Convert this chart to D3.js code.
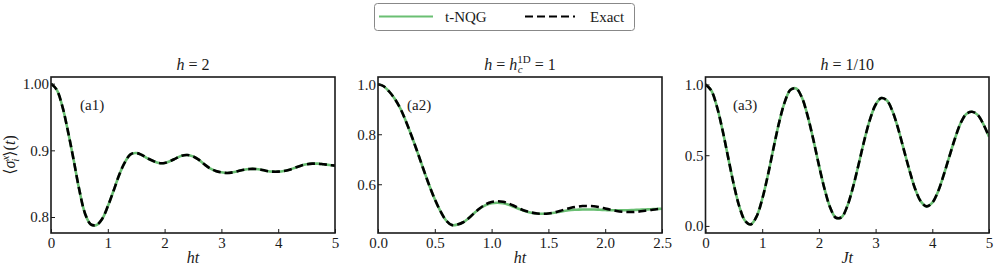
<!DOCTYPE html>
<html>
<meta charset="utf-8" />
<head>
<script src="https://d3js.org/d3.v7.min.js"></script>
<style>
  body { margin: 0; background: #fff; }
  text { font-family: "Liberation Serif", "DejaVu Serif", serif; fill: #1a1a1a; }
</style>
</head>
<body>
<div id="chart"></div>
<script>
// ---- data ----
// (a1) h = 2
var tA = [0,0.1,0.2,0.3,0.4,0.5,0.6,0.7,0.8,0.9,1.0,1.1,1.2,1.3,1.4,1.5,1.6,1.7,1.8,1.9,
          2.0,2.1,2.2,2.3,2.4,2.5,2.6,2.7,2.8,2.9,3.0,3.1,3.2,3.3,3.4,3.5,3.6,3.7,3.8,3.9,
          4.0,4.1,4.2,4.3,4.4,4.5,4.6,4.7,4.8,4.9,5.0];
var exactA = [1.000,0.991,0.966,0.928,0.885,0.840,0.805,0.789,0.788,0.797,0.816,0.839,0.863,0.882,0.894,0.896,0.893,0.888,0.884,0.881,
              0.881,0.884,0.888,0.892,0.893,0.891,0.886,0.879,0.873,0.869,0.867,0.866,0.867,0.869,0.871,0.872,0.872,0.871,0.869,0.868,
              0.868,0.869,0.871,0.874,0.877,0.879,0.880,0.880,0.879,0.878,0.877];
var nqgA =   [1.000,0.991,0.966,0.928,0.885,0.840,0.805,0.789,0.788,0.797,0.816,0.839,0.863,0.882,0.894,0.896,0.893,0.888,0.884,0.881,
              0.881,0.884,0.888,0.892,0.893,0.891,0.886,0.879,0.873,0.869,0.867,0.866,0.867,0.869,0.871,0.872,0.872,0.871,0.869,0.868,
              0.868,0.869,0.871,0.874,0.877,0.879,0.880,0.880,0.879,0.878,0.877];

// (a2) h = h_c = 1
var tB = [0,0.05,0.1,0.15,0.2,0.25,0.3,0.35,0.4,0.45,0.5,0.55,0.6,0.65,0.7,0.75,0.8,0.85,0.9,0.95,
          1.0,1.05,1.1,1.15,1.2,1.25,1.3,1.35,1.4,1.45,1.5,1.55,1.6,1.65,1.7,1.75,1.8,1.85,1.9,1.95,
          2.0,2.05,2.1,2.15,2.2,2.25,2.3,2.35,2.4,2.45,2.5];
var exactB = [1.000,0.992,0.970,0.940,0.900,0.847,0.788,0.725,0.660,0.597,0.540,0.492,0.455,0.437,0.439,0.448,0.465,0.486,0.505,0.520,
              0.529,0.532,0.530,0.523,0.513,0.502,0.493,0.487,0.483,0.482,0.483,0.487,0.493,0.500,0.506,0.510,0.513,0.513,0.512,0.508,
              0.503,0.498,0.493,0.490,0.489,0.489,0.491,0.494,0.497,0.500,0.502];
var nqgB =   [1.000,0.992,0.970,0.940,0.900,0.847,0.788,0.725,0.660,0.597,0.540,0.492,0.455,0.437,0.439,0.448,0.465,0.486,0.504,0.517,
              0.524,0.526,0.524,0.518,0.509,0.500,0.492,0.486,0.483,0.482,0.483,0.486,0.490,0.494,0.497,0.498,0.499,0.499,0.499,0.498,
              0.497,0.496,0.496,0.496,0.496,0.497,0.498,0.499,0.500,0.501,0.502];

// (a3) h = 1/10
var tC = tA;
var exactC = [1.000,0.959,0.846,0.678,0.483,0.291,0.133,0.035,0.011,0.066,0.189,0.358,0.551,0.734,0.879,0.963,0.972,0.908,0.780,0.614,
              0.430,0.261,0.129,0.058,0.062,0.139,0.272,0.434,0.604,0.751,0.857,0.904,0.887,0.809,0.685,0.536,0.389,0.259,0.172,0.138,
              0.164,0.242,0.359,0.490,0.618,0.727,0.792,0.807,0.785,0.720,0.630];
var nqgC = exactC.slice();

var xTicksA = [0,1,2,3,4,5],            xLabelsA = ["0","1","2","3","4","5"];
var yTicksA = [0.8,0.9,1.0],            yLabelsA = ["0.8","0.9","1.00"];
var xTicksB = [0,0.5,1,1.5,2,2.5],      xLabelsB = ["0.0","0.5","1.0","1.5","2.0","2.5"];
var yTicksB = [0.6,0.8,1.0],            yLabelsB = ["0.6","0.8","1.0"];
var xTicksC = [0,1,2,3,4,5],            xLabelsC = ["0","1","2","3","4","5"];
var yTicksC = [0,0.5,1.0],              yLabelsC = ["0.0","0.5","1.0"];

var seriesNames = ["t-NQG", "Exact"];

// ---- layout ----
var W = 997, H = 271;
var plotTop = 77, plotBottom = 233;
var green = "#6abf73";
var serif = "Liberation Serif, DejaVu Serif, serif";

var panels = [
  { t: tA, exact: exactA, nqg: nqgA, x0: 51,  x1: 335, xd: [0,5],   yd: [0.776,1.010],
    xt: xTicksA, xl: xLabelsA, yt: yTicksA, yl: yLabelsA, tag: "(a1)", xlab: ["h","t"], title: "a" },
  { t: tB, exact: exactB, nqg: nqgB, x0: 378, x1: 662, xd: [0,2.5], yd: [0.405,1.029],
    xt: xTicksB, xl: xLabelsB, yt: yTicksB, yl: yLabelsB, tag: "(a2)", xlab: ["h","t"], title: "b" },
  { t: tC, exact: exactC, nqg: nqgC, x0: 705.5, x1: 989, xd: [0,5], yd: [-0.05,1.053],
    xt: xTicksC, xl: xLabelsC, yt: yTicksC, yl: yLabelsC, tag: "(a3)", xlab: ["J","t"], title: "c" }
];

var svg = d3.select("#chart").append("svg")
    .attr("width", W).attr("height", H);

panels.forEach(function(p, k) {
  var x = d3.scaleLinear().domain(p.xd).range([p.x0, p.x1]);
  var y = d3.scaleLinear().domain(p.yd).range([plotBottom, plotTop]);
  var g = svg.append("g");

  g.append("clipPath").attr("id", "clip" + k)
    .append("rect").attr("x", p.x0).attr("y", plotTop)
    .attr("width", p.x1 - p.x0).attr("height", plotBottom - plotTop);

  var line = d3.line()
    .x(function(d, i) { return x(p.t[i]); })
    .y(function(d) { return y(d); })
    .curve(d3.curveCatmullRom);

  var plot = g.append("g").attr("clip-path", "url(#clip" + k + ")");
  plot.append("path").datum(p.nqg).attr("d", line)
    .attr("fill", "none").attr("stroke", green).attr("stroke-width", 2.6);
  plot.append("path").datum(p.exact).attr("d", line)
    .attr("fill", "none").attr("stroke", "#000").attr("stroke-width", 2.6)
    .attr("stroke-dasharray", "8,4");

  // axes with inward ticks
  var xa = g.append("g").attr("transform", "translate(0," + plotBottom + ")")
    .call(d3.axisBottom(x).tickValues(p.xt)
      .tickFormat(function(d, i) { return p.xl[i]; })
      .tickSizeInner(-4).tickSizeOuter(0).tickPadding(4));
  var ya = g.append("g").attr("transform", "translate(" + p.x0 + ",0)")
    .call(d3.axisLeft(y).tickValues(p.yt)
      .tickFormat(function(d, i) { return p.yl[i]; })
      .tickSizeInner(-4).tickSizeOuter(0).tickPadding(2));
  [xa, ya].forEach(function(a) {
    a.attr("font-family", serif);
    a.select(".domain").remove();
    a.selectAll(".tick line").attr("stroke", "#1a1a1a").attr("stroke-width", 1);
    a.selectAll(".tick text").attr("font-size", 15).attr("fill", "#1a1a1a");
  });

  g.append("rect").attr("x", p.x0).attr("y", plotTop)
    .attr("width", p.x1 - p.x0).attr("height", plotBottom - plotTop)
    .attr("fill", "none").attr("stroke", "#1a1a1a").attr("stroke-width", 1.6);

  // panel tag
  var tagX = [80, 407, 733][k];
  g.append("text").attr("x", tagX).attr("y", 110).attr("font-size", 15).text(p.tag);

  // x label
  g.append("text").attr("x", (p.x0 + p.x1) / 2).attr("y", 263)
    .attr("text-anchor", "middle").attr("font-size", 16).attr("font-style", "italic")
    .text(p.xlab[0] + p.xlab[1]);

  // title
  var cx = (p.x0 + p.x1) / 2;
  var tt = g.append("text").attr("x", cx).attr("y", 70)
    .attr("text-anchor", "middle").attr("font-size", 16);
  tt.append("tspan").attr("font-style", "italic").text("h");
  tt.append("tspan").text(" = ");
  if (p.title === "a") {
    tt.append("tspan").text("2");
  } else if (p.title === "b") {
    tt.append("tspan").attr("font-style", "italic").text("h");
    tt.append("tspan").attr("font-size", 11).attr("dy", -7).text("1D");
    tt.append("tspan").attr("font-size", 11).attr("font-style", "italic")
      .attr("dx", -13).attr("dy", 10).text("c");
    tt.append("tspan").attr("dx", 8).attr("dy", -3).text(" = 1");
  } else {
    tt.append("tspan").text("1/10");
  }
});

// y label
var yl = svg.append("text")
  .attr("transform", "translate(15,155) rotate(-90)")
  .attr("text-anchor", "middle").attr("font-size", 16);
yl.append("tspan").text("\u27E8");
yl.append("tspan").attr("font-style", "italic").text("\u03C3");
yl.append("tspan").attr("font-size", 11).attr("font-style", "italic").attr("dy", -6).text("x");
yl.append("tspan").attr("font-size", 11).attr("font-style", "italic")
  .attr("dx", -6).attr("dy", 10).text("i");
yl.append("tspan").attr("dy", -4).attr("dx", 2).text("\u27E9(");
yl.append("tspan").attr("font-style", "italic").text("t");
yl.append("tspan").text(")");

// legend
var lg = svg.append("g");
lg.append("rect").attr("x", 374.5).attr("y", 3.5).attr("width", 260).attr("height", 27)
  .attr("rx", 3).attr("fill", "#fff").attr("stroke", "#888").attr("stroke-width", 1);
lg.append("line").attr("x1", 379).attr("x2", 433).attr("y1", 16.5).attr("y2", 16.5)
  .attr("stroke", green).attr("stroke-width", 2.2);
lg.append("text").attr("x", 445).attr("y", 22).attr("font-size", 15).text(seriesNames[0]);
lg.append("line").attr("x1", 525).attr("x2", 575).attr("y1", 16.5).attr("y2", 16.5)
  .attr("stroke", "#000").attr("stroke-width", 2.2).attr("stroke-dasharray", "8,4");
lg.append("text").attr("x", 590).attr("y", 22).attr("font-size", 15).text(seriesNames[1]);
</script>
</body>
</html>
